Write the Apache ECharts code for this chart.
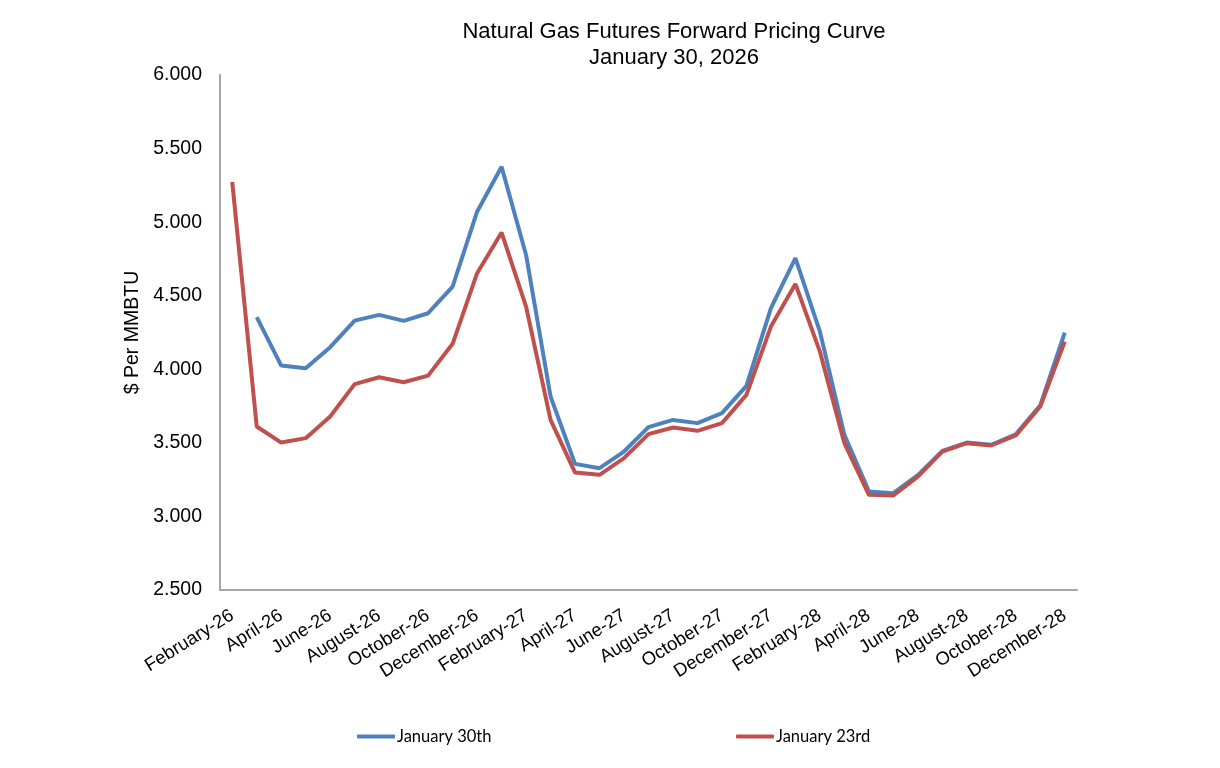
<!DOCTYPE html>
<html>
<head>
<meta charset="utf-8">
<script src="https://cdn.jsdelivr.net/npm/echarts@6/dist/echarts.min.js"></script>
<style>html,body{margin:0;padding:0;background:#fff}#c{width:1220px;height:768px}</style>
</head>
<body>
<div id="c"></div>
<script>
const categories = [
  "February-26","March-26","April-26","May-26","June-26","July-26","August-26","September-26","October-26","November-26","December-26",
  "January-27","February-27","March-27","April-27","May-27","June-27","July-27","August-27","September-27","October-27","November-27","December-27",
  "January-28","February-28","March-28","April-28","May-28","June-28","July-28","August-28","September-28","October-28","November-28","December-28"
];
const jan30 = [null,4.354,4.025,4.007,4.150,4.331,4.370,4.329,4.381,4.562,5.071,
  5.377,4.777,3.815,3.357,3.328,3.441,3.607,3.656,3.634,3.702,3.887,4.415,
  4.755,4.256,3.554,3.170,3.158,3.280,3.445,3.502,3.487,3.558,3.755,4.249];
const jan23 = [5.273,3.611,3.502,3.532,3.679,3.899,3.946,3.912,3.957,4.173,4.653,
  4.929,4.426,3.656,3.298,3.283,3.396,3.559,3.604,3.582,3.634,3.826,4.290,
  4.580,4.120,3.498,3.147,3.142,3.271,3.441,3.498,3.482,3.550,3.747,4.188];
const titleLines = ["Natural Gas Futures Forward Pricing Curve","January 30, 2026"];
const yTicks = {min:2.5, max:6.0, interval:0.5};

const chart = echarts.init(document.getElementById('c'));
const font = 'Liberation Sans';
const legendFont = 'Lato';
chart.setOption({
  animation:false,
  backgroundColor:'#fff',
  graphic:[
    {type:'text', x:674, y:21, style:{text:titleLines[0], font:'22px "Liberation Sans"', fill:'#000', textAlign:'center'}},
    {type:'text', x:674, y:47, style:{text:titleLines[1], font:'22px "Liberation Sans"', fill:'#000', textAlign:'center'}}
  ],
  legend:[
    {data:['January 30th'], left:352, top:723, icon:'roundRect', itemWidth:38, itemHeight:4, itemGap:4,
     textStyle:{fontFamily:legendFont, fontSize:16.5, color:'#000', padding:[0,0,0,-3]}},
    {data:['January 23rd'], left:731, top:723, icon:'roundRect', itemWidth:38, itemHeight:4, itemGap:4,
     textStyle:{fontFamily:legendFont, fontSize:16.5, color:'#000', padding:[0,0,0,-3]}}
  ],
  grid:{left:220, right:143, top:75, bottom:178, containLabel:false},
  xAxis:{
    type:'category', data:categories, boundaryGap:true,
    axisLine:{lineStyle:{color:'#a6a6a6', width:2}},
    axisTick:{show:false},
    axisLabel:{interval:1, rotate:32, margin:24, fontFamily:font, fontSize:18.5, color:'#000'}
  },
  yAxis:{
    type:'value', min:yTicks.min, max:yTicks.max, interval:yTicks.interval,
    name:'$ Per MMBTU', nameLocation:'middle', nameGap:73,
    nameTextStyle:{fontFamily:font, fontSize:19.5, color:'#000'},
    axisLine:{show:true, lineStyle:{color:'#a6a6a6', width:2}},
    axisTick:{show:false},
    splitLine:{show:false},
    axisLabel:{margin:18, fontFamily:font, fontSize:19.5, color:'#000', formatter:v=>v.toFixed(3)}
  },
  series:[
    {name:'January 30th', type:'line', data:jan30, showSymbol:false, symbol:'none',
     lineStyle:{color:'#4f81bd', width:4}, itemStyle:{color:'#4f81bd'}},
    {name:'January 23rd', type:'line', data:jan23, showSymbol:false, symbol:'none',
     lineStyle:{color:'#c0504d', width:4}, itemStyle:{color:'#c0504d'}}
  ]
});
</script>
</body>
</html>
